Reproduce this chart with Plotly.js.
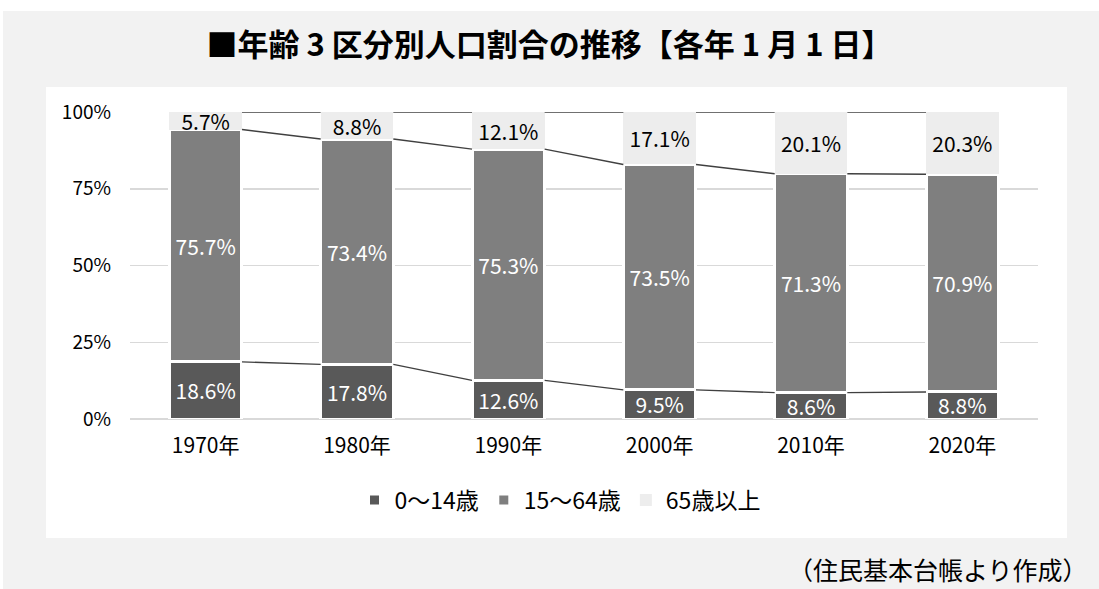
<!DOCTYPE html>
<html>
<head>
<meta charset="utf-8">
<script src="https://cdn.plot.ly/plotly-3.0.1.min.js"></script>
<style>
html,body{margin:0;padding:0;background:#ffffff;}
#bg{position:absolute;left:3px;top:11px;width:1096px;height:578px;background:#f2f2f2;}
#panel{position:absolute;left:46px;top:87px;width:1021px;height:451px;background:#ffffff;}
#chart{position:absolute;left:0;top:0;width:1099px;height:589px;}
</style>
</head>
<body>
<div id="bg"></div>
<div id="panel"></div>
<div id="chart"></div>
<script>
const years = ['1970年','1980年','1990年','2000年','2010年','2020年'];
const seriesNames = ['0～14歳','15～64歳','65歳以上'];
const young = [18.6, 17.8, 12.6, 9.5, 8.6, 8.8];
const working = [75.7, 73.4, 75.3, 73.5, 71.3, 70.9];
const elderly = [5.7, 8.8, 12.1, 17.1, 20.1, 20.3];
const colors = ['#595959', '#7f7f7f', '#ededed'];

const NUM_FONT = '"Noto Sans CJK JP", "Noto Sans", sans-serif';
const JP_FONT = '"Noto Sans CJK JP", sans-serif';
const BARGAP = 0.52;
const halfW = (1 - BARGAP) / 2;

const series = [young, working, elderly];
const traces = series.map((vals, k) => ({
  type: 'bar',
  name: seriesNames[k],
  x: years,
  y: vals,
  text: vals.map(v => v.toFixed(1) + '%'),
  textposition: 'inside',
  insidetextanchor: 'middle',
  textangle: 0,
  constraintext: 'none',
  textfont: {family: NUM_FONT, size: 21, color: k === 2 ? '#000000' : '#ffffff'},
  marker: {color: colors[k], line: {color: '#ffffff', width: k === 2 ? 0 : 3}},
  hoverinfo: 'name+y'
}));

// series lines (connect tops of each stacked series between adjacent bars)
function totalAt(i){ return young[i] + working[i] + elderly[i]; }
function cumPct(level, i){
  let s = 0;
  for (let k = 0; k <= level; k++) s += series[k][i];
  return s / totalAt(i) * 100;
}
for (let level = 0; level < 3; level++) {
  const xs = [], ys = [];
  for (let i = 0; i < years.length - 1; i++) {
    xs.push(i + halfW, i + 1 - halfW, null);
    ys.push(cumPct(level, i), cumPct(level, i + 1), null);
  }
  traces.push({
    type: 'scatter', mode: 'lines', x: xs, y: ys, xaxis: 'x2',
    line: {color: '#404040', width: 1.4}, showlegend: false, hoverinfo: 'skip'
  });
}

const layout = {
  width: 1099, height: 589,
  margin: {l: 130, r: 61, t: 112, b: 170},
  paper_bgcolor: 'rgba(0,0,0,0)',
  plot_bgcolor: 'rgba(0,0,0,0)',
  barmode: 'stack',
  barnorm: 'percent',
  bargap: BARGAP,
  title: {
    text: '■年齢 3 区分別人口割合の推移【各年 1 月 1 日】',
    font: {family: JP_FONT, size: 31, color: '#000000', weight: 'bold'},
    x: 0.5, xref: 'container', xanchor: 'center',
    y: 1 - 45/589, yref: 'container', yanchor: 'middle'
  },
  xaxis: {
    type: 'category', range: [-0.5, 5.5], fixedrange: true,
    showgrid: false, showline: false, zeroline: false,
    tickfont: {family: NUM_FONT, size: 21, color: '#000000'},
    ticks: '', ticklabelstandoff: 12
  },
  xaxis2: {
    overlaying: 'x', range: [-0.5, 5.5], visible: false, fixedrange: true
  },
  yaxis: {
    range: [0, 100], tickvals: [0, 25, 50, 75, 100], ticktext: ['0%','25%','50%','75%','100%'],
    showgrid: true, gridcolor: '#d9d9d9', gridwidth: 1.5, zeroline: true, zerolinecolor: '#d9d9d9', zerolinewidth: 1.5,
    showline: false, ticks: '', ticklabelstandoff: 18,
    tickfont: {family: NUM_FONT, size: 19, color: '#000000'}, fixedrange: true
  },
  showlegend: true,
  legend: {
    orientation: 'h', xref: 'container', yref: 'container',
    x: 560/1099, xanchor: 'center', y: 1 - 500/589, yanchor: 'middle',
    font: {family: NUM_FONT, size: 23, color: '#000000'},
    traceorder: 'normal', bgcolor: 'rgba(0,0,0,0)', itemwidth: 30
  },
  annotations: [{
    text: '（住民基本台帳より作成）', showarrow: false,
    xref: 'paper', yref: 'paper', x: (1090 - 130) / 908, y: (419 - 569) / 307,
    xanchor: 'right', yanchor: 'middle',
    font: {family: JP_FONT, size: 25, color: '#000000'}
  }]
};

Plotly.newPlot('chart', traces, layout, {displayModeBar: false, staticPlot: true});
</script>
</body>
</html>
